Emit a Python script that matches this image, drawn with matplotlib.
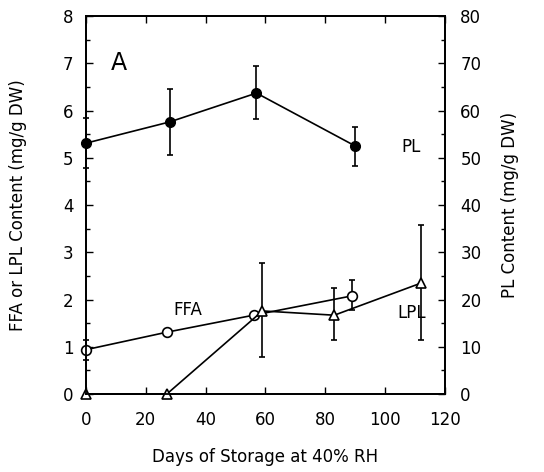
import matplotlib
matplotlib.use("Agg")
import matplotlib.pyplot as plt
from matplotlib.ticker import MultipleLocator

# PL (right axis, mg/g DW)
pl_days = [0, 28, 57, 90]
pl_vals = [53.1, 57.6, 63.7, 52.5]
pl_err_lo = [5.3, 7.0, 5.5, 4.2]
pl_err_hi = [5.3, 6.9, 5.7, 4.0]

# FFA (left axis)
ffa_days = [0, 27, 56, 89]
ffa_vals = [0.94, 1.31, 1.67, 2.08]
ffa_err_lo = [0.21, 0.0, 0.0, 0.30]
ffa_err_hi = [0.21, 0.0, 0.0, 0.33]

# LPL (left axis)
lpl_days = [0, 27, 59, 83, 112]
lpl_vals = [0.0, 0.0, 1.76, 1.67, 2.35]
lpl_err_lo = [0.0, 0.0, 0.98, 0.53, 1.21]
lpl_err_hi = [0.0, 0.0, 1.01, 0.57, 1.23]

fig = plt.figure(figsize=(5.44, 4.72), dpi=100)
ax = fig.add_axes([0.158, 0.165, 0.660, 0.801])
ax2 = ax.twinx()

fs = 12
ax.errorbar(ffa_days, ffa_vals, yerr=[ffa_err_lo, ffa_err_hi], color="black",
            marker="o", mfc="white", mec="black", ms=7, mew=1.2, lw=1.2,
            capsize=2.5, elinewidth=1.2, capthick=1.2, clip_on=False, zorder=3)
ax.errorbar(lpl_days, lpl_vals, yerr=[lpl_err_lo, lpl_err_hi], color="black",
            marker="^", mfc="white", mec="black", ms=6.5, mew=1.2, lw=1.2,
            capsize=2.5, elinewidth=1.2, capthick=1.2, clip_on=False, zorder=3)
ax2.errorbar(pl_days, pl_vals, yerr=[pl_err_lo, pl_err_hi], color="black",
             marker="o", mfc="black", mec="black", ms=7, lw=1.2,
             capsize=2.5, elinewidth=1.2, capthick=1.2, clip_on=False, zorder=3)

ax.set_xlim(0, 120)
ax.set_ylim(0, 8)
ax2.set_ylim(0, 80)

ax.xaxis.set_major_locator(MultipleLocator(20))
ax.yaxis.set_major_locator(MultipleLocator(1))
ax.yaxis.set_minor_locator(MultipleLocator(0.5))
ax2.yaxis.set_major_locator(MultipleLocator(10))
ax2.yaxis.set_minor_locator(MultipleLocator(5))

ax.tick_params(axis="both", which="both", direction="in", top=True, labelsize=fs,
               width=1.0)
ax.tick_params(which="major", length=5)
ax.tick_params(which="minor", length=3)
ax.tick_params(axis="x", which="major", pad=12)
ax.tick_params(axis="y", which="major", pad=9)
ax2.tick_params(axis="y", which="both", direction="in", labelsize=fs, width=1.0)
ax2.tick_params(which="major", length=5, pad=11)
ax2.tick_params(which="minor", length=3)

for a in (ax, ax2):
    for s in a.spines.values():
        s.set_linewidth(1.3)

ax.set_xlabel("Days of Storage at 40% RH", fontsize=fs, labelpad=14)
ax.set_ylabel("FFA or LPL Content (mg/g DW)", fontsize=fs, labelpad=26)
ax2.set_ylabel("PL Content (mg/g DW)", fontsize=fs, labelpad=14)

ax.text(11, 7.0, "A", fontsize=17, ha="center", va="center")
ax.text(108.5, 5.22, "PL", fontsize=fs, ha="center", va="center")
ax.text(34, 1.78, "FFA", fontsize=fs, ha="center", va="center")
ax.text(109, 1.71, "LPL", fontsize=fs, ha="center", va="center")

fig.savefig("out.png", dpi=100)
